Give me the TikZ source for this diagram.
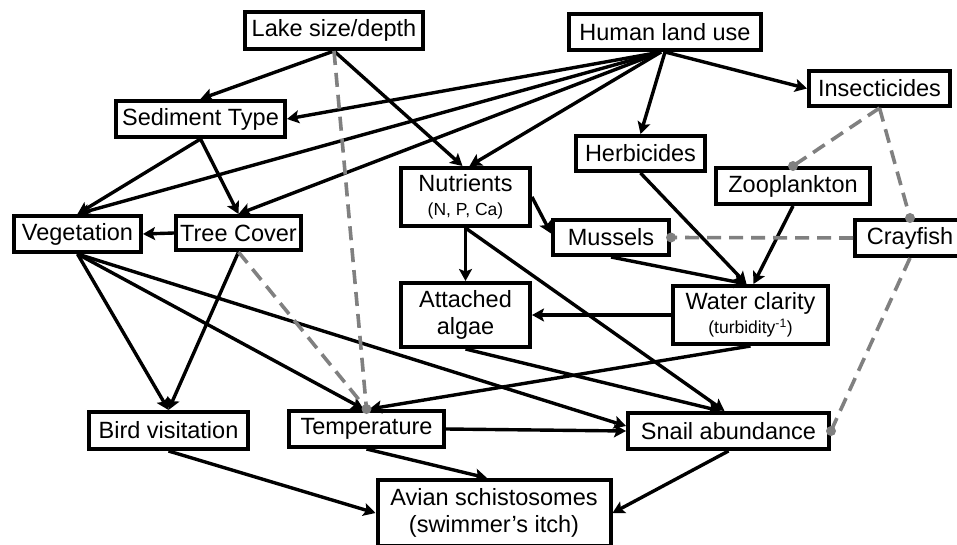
\documentclass[tikz,border=0pt]{standalone}
\usepackage{fontspec}
\setmainfont{Liberation Sans}
\usetikzlibrary{arrows.meta,calc}
\definecolor{dgray}{HTML}{808080}
\newcommand{\smalltxt}{\fontsize{17.5}{20}\selectfont}
\begin{document}
\begin{tikzpicture}[x=1pt,y=-1pt,
  box/.style={draw, line width=4pt, inner sep=0pt, align=center, font=\fontsize{23.5}{27}\selectfont},
  arr/.style={line width=3.4pt, -{Stealth[length=12pt,width=13pt,inset=2.5pt]}},
  dsh/.style={line width=3.6pt, draw=dgray, dash pattern=on 14pt off 8pt},
  dotc/.style={fill=dgray}]
\useasboundingbox (0,0) rectangle (957,545);
% nodes
\node[box, minimum width=178pt, minimum height=37pt] (lake) at (334,30.5) {Lake size/depth};
\node[box, minimum width=192pt, minimum height=36pt] (human) at (665,32) {Human land use};
\node[box, minimum width=169pt, minimum height=36pt] (sed) at (200.5,119) {Sediment Type};
\node[box, minimum width=141pt, minimum height=35pt] (insect) at (879.5,88.5) {Insecticides};
\node[box, minimum width=129pt, minimum height=35pt] (herb) at (640.5,153.5) {Herbicides};
\node[box, minimum width=129pt, minimum height=58pt] (nutr) at (465.5,197) {Nutrients\\[-3pt]\smalltxt (N, P, Ca)};
\node[box, minimum width=154pt, minimum height=36pt] (zoo) at (793,186) {Zooplankton};
\node[box, minimum width=127pt, minimum height=36pt] (veg) at (77.5,234) {Vegetation};
\node[box, minimum width=125pt, minimum height=34pt] (tree) at (238.5,233) {Tree Cover};
\node[box, minimum width=116pt, minimum height=35pt] (mussels) at (611,237.5) {Mussels};
\node[box, minimum width=110pt, minimum height=36pt] (crayfish) at (910,238) {Crayfish};
\node[box, minimum width=129pt, minimum height=64pt] (algae) at (465.5,315) {Attached\\algae};
\node[box, minimum width=155pt, minimum height=58pt] (water) at (750.5,315) {Water clarity\\[-3pt]\smalltxt (turbidity\textsuperscript{-1})};
\node[box, minimum width=159pt, minimum height=37pt] (bird) at (168.5,430.5) {Bird visitation};
\node[box, minimum width=155pt, minimum height=36pt] (temp) at (366.5,429) {Temperature};
\node[box, minimum width=201pt, minimum height=36pt] (snail) at (728.5,431) {Snail abundance};
\node[box, minimum width=233pt, minimum height=66pt] (avian) at (494,513) {Avian schistosomes\\(swimmer’s itch)};
% black arrows
\draw[arr] (lake.south) -- (sed.north);
\draw[arr] (lake.south) -- ([xshift=-3pt]nutr.north);
\draw[arr] ([xshift=-4pt]human.south) -- (sed.east);
\draw[arr] ([xshift=-4pt]human.south) -- (veg.north);
\draw[arr] ([xshift=-4pt]human.south) -- (tree.north);
\draw[arr] ([xshift=-4pt]human.south) -- ([xshift=4pt]nutr.north);
\draw[arr] (human.south) -- (herb.north);
\draw[arr] (human.south) -- (insect.west);
\draw[arr] (sed.south) -- (veg.north);
\draw[arr] (sed.south) -- (tree.north);
\draw[arr] (tree.west) -- (veg.east);
\draw[arr] (tree.south) -- (bird.north);
\draw[arr] (veg.south) -- (bird.north);
\draw[arr] (veg.south) -- ([xshift=-3pt]temp.north);
\draw[arr] (veg.south) -- ([yshift=5pt]snail.west);
\draw[arr] (nutr.south) -- (algae.north);
\draw[arr] (nutr.south) -- ([xshift=-4pt]snail.north);
\draw[arr] (nutr.east) -- ([yshift=4pt]mussels.west);
\draw[arr] (herb.south) -- ([xshift=-4pt]water.north);
\draw[arr] (mussels.south) -- ([xshift=-4pt]water.north);
\draw[arr] (zoo.south) -- ([xshift=3pt]water.north);
\draw[arr] (water.west) -- (algae.east);
\draw[arr] (water.south) -- ([xshift=3pt]temp.north);
\draw[arr] (algae.south) -- ([xshift=-8pt]snail.north);
\draw[arr] (temp.east) -- (snail.west);
\draw[arr] (temp.south) -- ([xshift=-7pt]avian.north);
\draw[arr] (bird.south) -- (avian.west);
\draw[arr] (snail.south) -- (avian.east);
% dashed links
\draw[dsh] (lake.south) -- (temp.north);
\draw[dsh] (tree.south) -- (temp.north);
\draw[dsh] (insect.south) -- (zoo.north);
\draw[dsh] (insect.south) -- (crayfish.north);
\draw[dsh] (crayfish.west) -- (mussels.east);
\draw[dsh] (crayfish.south) -- (snail.east);
\fill[dotc] (temp.north) circle (5);
\fill[dotc] (zoo.north) circle (5);
\fill[dotc] (crayfish.north) circle (5);
\fill[dotc] (mussels.east) circle (5);
\fill[dotc] (snail.east) circle (5);
\end{tikzpicture}
\end{document}
